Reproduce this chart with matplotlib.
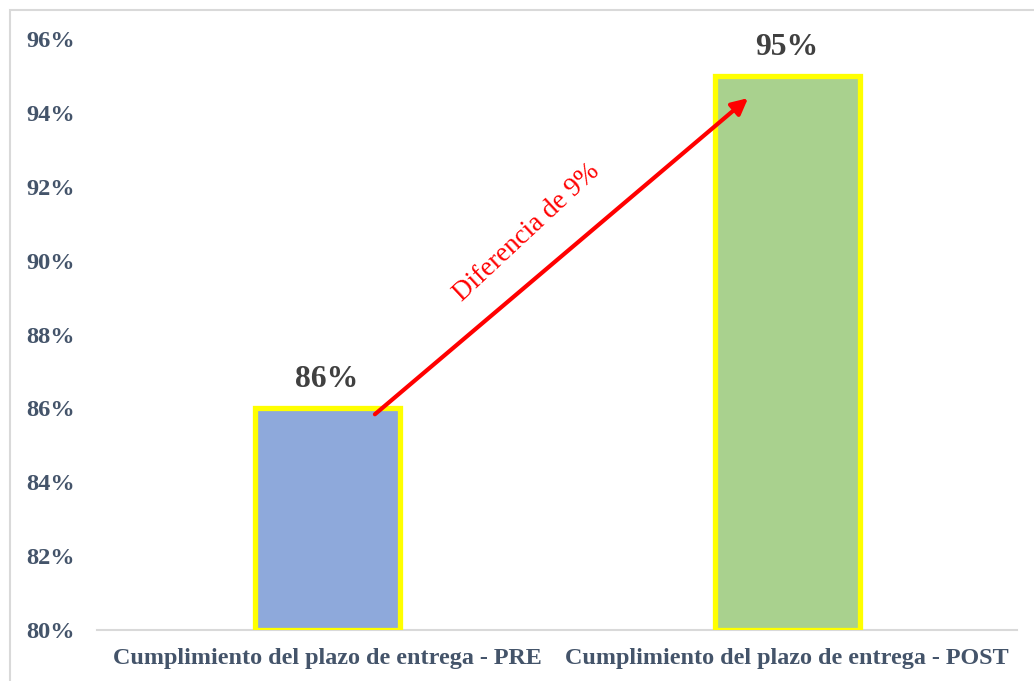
import matplotlib
matplotlib.use("Agg")
import matplotlib.pyplot as plt
from matplotlib.patches import Rectangle
from matplotlib.ticker import FuncFormatter

categories = ["Cumplimiento del plazo de entrega - PRE",
              "Cumplimiento del plazo de entrega - POST"]
values = [86, 95]
bar_colors = ["#8EA9DB", "#A9D18E"]
y_ticks = [80, 82, 84, 86, 88, 90, 92, 94, 96]
diff_label = "Diferencia de 9%"

serif = ["Liberation Serif", "DejaVu Serif"]
axis_color = "#44546A"

fig = plt.figure(figsize=(10.34, 6.81), dpi=100)
ax = fig.add_axes([0.0938, 0.0749, 0.89, 0.8678])

x = list(range(len(categories)))
ax.bar(x, [v - y_ticks[0] for v in values], bottom=y_ticks[0], width=0.315,
       color=bar_colors, edgecolor="#FFFF00", linewidth=3.8, zorder=2)

for xi, v in zip(x, values):
    ax.annotate(f"{v}%", (xi, v), xytext=(0, 20.5), textcoords="offset points",
                ha="center", va="center", fontsize=22.8, fontweight="bold",
                color="#404040", family=serif)

ax.set_xlim(-0.5, 1.5)
ax.set_ylim(y_ticks[0], y_ticks[-1])
ax.set_yticks(y_ticks)
ax.yaxis.set_major_formatter(FuncFormatter(lambda v, p: f"{v:.0f}%"))
ax.set_xticks(x)
ax.set_xticklabels(categories)

for lab in ax.get_yticklabels() + ax.get_xticklabels():
    lab.set_family(serif)
    lab.set_fontweight("bold")
    lab.set_color(axis_color)
for lab in ax.get_yticklabels():
    lab.set_fontsize(17.6)
for lab in ax.get_xticklabels():
    lab.set_fontsize(17.4)

ax.tick_params(axis="y", length=0, pad=16)
ax.tick_params(axis="x", length=0, pad=13)
for side in ["top", "right", "left"]:
    ax.spines[side].set_visible(False)
ax.spines["bottom"].set_color("#D9D9D9")
ax.spines["bottom"].set_linewidth(1.5)
ax.spines["bottom"].set_zorder(1)

# Difference arrow between the two bars
ax.annotate("", xy=(0.915, 94.4), xytext=(0.104, 85.84),
            arrowprops=dict(arrowstyle="-|>", color="#FF0000", lw=3,
                            mutation_scale=24, shrinkA=0, shrinkB=0),
            zorder=4)
ax.text(0.435, 90.76, diff_label, rotation=43, rotation_mode="anchor",
        ha="center", va="center", fontsize=19.5, color="#FF0000", family=serif)

# Chart-area frame
fig.add_artist(Rectangle((10 / 1034, -0.05), 1.1, 1 - 10 / 681 + 0.05,
                         transform=fig.transFigure, fill=False,
                         edgecolor="#D9D9D9", linewidth=1.5))

fig.savefig("out.png", dpi=100)
